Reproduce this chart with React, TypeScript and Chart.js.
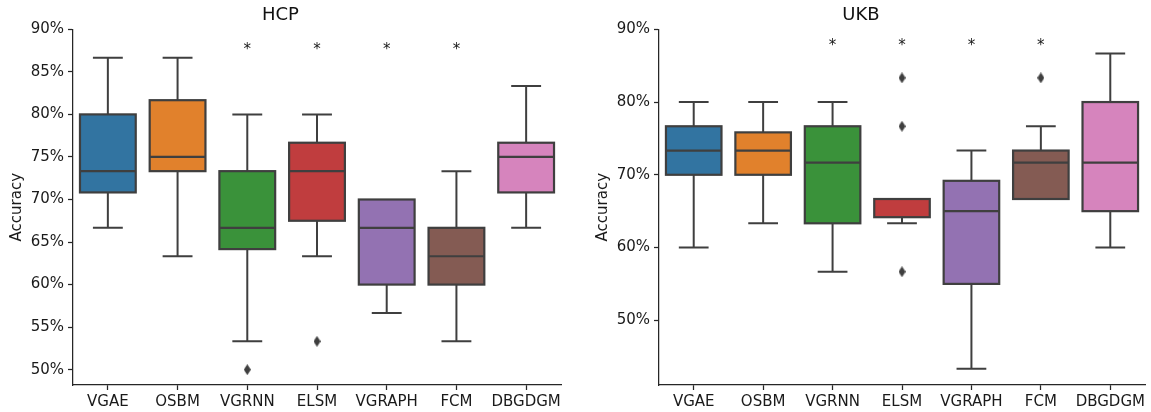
import React, { useEffect, useRef } from "react";
import { Chart, registerables } from "chart.js";

Chart.register(...registerables);

// ---------- data ----------
const CATEGORIES = ["VGAE", "OSBM", "VGRNN", "ELSM", "VGRAPH", "FCM", "DBGDGM"];
const BOX_COLORS = ["#3274a1", "#e1812c", "#3a923a", "#c03d3e", "#9372b2", "#845b53", "#d684bd"];

// HCP (accuracy in %)
const HCP_MIN = [66.67, 63.33, 53.33, 63.33, 56.67, 53.33, 66.67];
const HCP_Q1 = [70.83, 73.33, 64.17, 67.5, 60, 60, 70.83];
const HCP_MEDIAN = [73.33, 75, 66.67, 73.33, 66.67, 63.33, 75];
const HCP_Q3 = [80, 81.67, 73.33, 76.67, 70, 66.67, 76.67];
const HCP_MAX = [86.67, 86.67, 80, 80, 70, 73.33, 83.33];
const HCP_OUTLIER_CATS = ["VGRNN", "ELSM"];
const HCP_OUTLIER_VALUES = [50, 53.33];
const HCP_Y_TICKS = [50, 55, 60, 65, 70, 75, 80, 85, 90];
const HCP_Y_MIN = 48.2;
const HCP_Y_MAX = 90;

// UKB (accuracy in %)
const UKB_MIN = [60, 63.33, 56.67, 63.33, 43.33, 66.67, 60];
const UKB_Q1 = [70, 70, 63.33, 64.17, 55, 66.67, 65];
const UKB_MEDIAN = [73.33, 73.33, 71.67, 66.67, 65, 71.67, 71.67];
const UKB_Q3 = [76.67, 75.83, 76.67, 66.67, 69.17, 73.33, 80];
const UKB_MAX = [80, 80, 80, 66.67, 73.33, 76.67, 86.67];
const UKB_OUTLIER_CATS = ["ELSM", "ELSM", "ELSM", "FCM"];
const UKB_OUTLIER_VALUES = [83.33, 76.67, 56.67, 83.33];
const UKB_Y_TICKS = [50, 60, 70, 80, 90];
const UKB_Y_MIN = 41.1;
const UKB_Y_MAX = 90;

// significance markers
const SIGNIFICANT = ["VGRNN", "ELSM", "VGRAPH", "FCM"];
const ASTERISK_VALUE = 87.1;

// ---------- style ----------
const LINE = "#3f3f3f";
const AXIS = "#262626";
const TEXT = "#1a1a1a";
const FONT = "'DejaVu Sans', sans-serif";

type Panel = {
  title: string;
  min: number[];
  q1: number[];
  median: number[];
  q3: number[];
  max: number[];
  outCats: string[];
  outVals: number[];
  ticks: number[];
  yMin: number;
  yMax: number;
  left: number;
  width: number;
  axisWidth: number;
  padRight: number;
  titlePad: number;
};

const PANELS: Panel[] = [
  {
    title: "HCP",
    min: HCP_MIN, q1: HCP_Q1, median: HCP_MEDIAN, q3: HCP_Q3, max: HCP_MAX,
    outCats: HCP_OUTLIER_CATS, outVals: HCP_OUTLIER_VALUES,
    ticks: HCP_Y_TICKS, yMin: HCP_Y_MIN, yMax: HCP_Y_MAX,
    left: 0, width: 575, axisWidth: 73, padRight: 14, titlePad: 8,
  },
  {
    title: "UKB",
    min: UKB_MIN, q1: UKB_Q1, median: UKB_MEDIAN, q3: UKB_Q3, max: UKB_MAX,
    outCats: UKB_OUTLIER_CATS, outVals: UKB_OUTLIER_VALUES,
    ticks: UKB_Y_TICKS, yMin: UKB_Y_MIN, yMax: UKB_Y_MAX,
    left: 575, width: 576, axisWidth: 84, padRight: 4, titlePad: 19,
  },
];

function makeDiamond(): HTMLCanvasElement {
  const c = document.createElement("canvas");
  c.width = 7;
  c.height = 11;
  const g = c.getContext("2d")!;
  g.fillStyle = LINE;
  g.beginPath();
  g.moveTo(3.5, 0);
  g.lineTo(7, 5.5);
  g.lineTo(3.5, 11);
  g.lineTo(0, 5.5);
  g.closePath();
  g.fill();
  return c;
}

function makeBoxPlugin(p: Panel) {
  return {
    id: "boxExtras",
    afterDatasetsDraw(chart: any) {
      const meta = chart.getDatasetMeta(0);
      const ys = chart.scales.y;
      const xs = chart.scales.x;
      const ctx = chart.ctx as CanvasRenderingContext2D;
      ctx.save();
      ctx.strokeStyle = LINE;
      ctx.lineCap = "butt";
      ctx.lineJoin = "miter";
      meta.data.forEach((bar: any, i: number) => {
        const x = bar.x;
        const w = bar.width;
        const cap = w / 4 + 1;
        const yMin = ys.getPixelForValue(p.min[i]);
        const yQ1 = ys.getPixelForValue(p.q1[i]);
        const yQ3 = ys.getPixelForValue(p.q3[i]);
        const yMax = ys.getPixelForValue(p.max[i]);
        const yMed = ys.getPixelForValue(p.median[i]);
        // whiskers
        ctx.lineWidth = 2;
        ctx.beginPath();
        if (p.max[i] > p.q3[i]) {
          ctx.moveTo(x, yQ3);
          ctx.lineTo(x, yMax);
          ctx.moveTo(x - cap, yMax);
          ctx.lineTo(x + cap, yMax);
        }
        if (p.min[i] < p.q1[i]) {
          ctx.moveTo(x, yQ1);
          ctx.lineTo(x, yMin);
          ctx.moveTo(x - cap, yMin);
          ctx.lineTo(x + cap, yMin);
        }
        ctx.stroke();
        // box outline (centered on the bar edges)
        const top = Math.min(bar.y, bar.base);
        const h = Math.abs(bar.base - bar.y);
        ctx.lineWidth = 2.2;
        ctx.strokeRect(x - w / 2, top, w, h);
        // median
        ctx.lineWidth = 2.2;
        ctx.beginPath();
        ctx.moveTo(x - w / 2, yMed);
        ctx.lineTo(x + w / 2, yMed);
        ctx.stroke();
      });
      ctx.fillStyle = TEXT;
      ctx.font = `15px ${FONT}`;
      ctx.textAlign = "center";
      ctx.textBaseline = "alphabetic";
      SIGNIFICANT.forEach((c) => {
        const xi = xs.getPixelForValue(CATEGORIES.indexOf(c));
        ctx.fillText("*", xi, ys.getPixelForValue(ASTERISK_VALUE));
      });
      ctx.restore();
    },
  };
}

function BoxChart({ p }: { p: Panel }) {
  const ref = useRef<HTMLCanvasElement>(null);
  useEffect(() => {
    if (!ref.current) return;
    const diamond = makeDiamond();
    const chart = new Chart(ref.current, {
      type: "bar",
      data: {
        labels: CATEGORIES,
        datasets: [
          {
            type: "bar",
            data: p.q1.map((v, i) => [v, p.q3[i]]) as any,
            backgroundColor: BOX_COLORS,
            borderWidth: 0,
            barPercentage: 0.8,
            categoryPercentage: 1,
            order: 2,
          } as any,
          {
            type: "scatter",
            data: p.outCats.map((c, i) => ({ x: c, y: p.outVals[i] })) as any,
            pointStyle: diamond as any,
            pointRadius: 5,
            order: 1,
          } as any,
        ],
      },
      options: {
        animation: false,
        responsive: false,
        devicePixelRatio: window.devicePixelRatio || 1,
        layout: { padding: { left: 0, right: p.padRight, top: 0, bottom: 0 } },
        plugins: {
          legend: { display: false },
          tooltip: { enabled: false },
          title: {
            display: true,
            text: p.title,
            color: "#111",
            font: { family: FONT, size: 18, weight: "normal" as any, lineHeight: 1.2 },
            padding: { top: 5, bottom: 2.7 },
          },
        },
        scales: {
          x: {
            type: "category",
            offset: true,
            grid: {
              display: true,
              drawOnChartArea: false,
              drawTicks: true,
              tickLength: 5,
              tickColor: AXIS,
              tickWidth: 1.25,
              offset: false,
            },
            border: { display: true, color: AXIS, width: 1.25 },
            ticks: {
              color: TEXT,
              font: { family: FONT, size: 15 },
              padding: 3,
              autoSkip: false,
              maxRotation: 0,
            },
            afterFit: (s: any) => {
              s.height = 27;
            },
          },
          y: {
            type: "linear",
            min: p.yMin,
            max: p.yMax,
            afterBuildTicks: (s: any) => {
              s.ticks = p.ticks.map((v) => ({ value: v }));
            },
            grid: {
              display: true,
              drawOnChartArea: false,
              drawTicks: true,
              tickLength: 5,
              tickColor: AXIS,
              tickWidth: 1.25,
            },
            border: { display: true, color: AXIS, width: 1.25 },
            ticks: {
              color: TEXT,
              font: { family: FONT, size: 15 },
              padding: 4,
              callback: (v: any) => `${v}%`,
            },
            title: {
              display: true,
              text: "Accuracy",
              color: TEXT,
              font: { family: FONT, size: 15, lineHeight: 1.2 },
              padding: { top: p.titlePad, bottom: 0 },
            },
            afterFit: (s: any) => {
              s.width = p.axisWidth;
            },
          },
        },
      } as any,
      plugins: [makeBoxPlugin(p)],
    });
    return () => chart.destroy();
  }, [p]);
  return (
    <div style={{ position: "absolute", left: p.left, top: 0, width: p.width, height: 412 }}>
      <canvas ref={ref} width={p.width} height={412} style={{ width: p.width, height: 412, display: "block" }} />
    </div>
  );
}

export default function App() {
  return (
    <div style={{ position: "absolute", left: 0, top: 0, width: 1151, height: 412, background: "#fff", overflow: "hidden" }}>
      {PANELS.map((p) => (
        <BoxChart key={p.title} p={p} />
      ))}
    </div>
  );
}
